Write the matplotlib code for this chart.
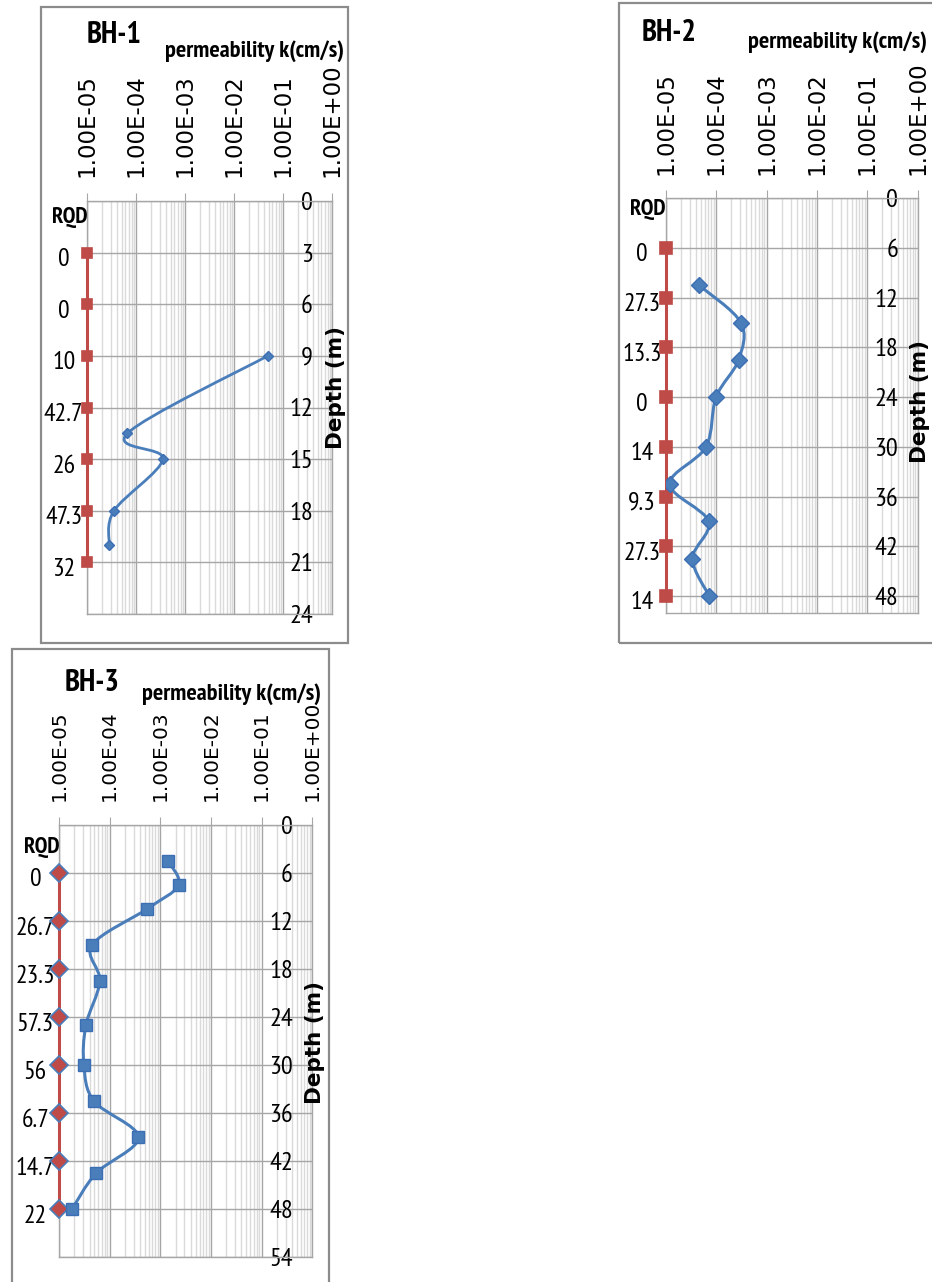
import numpy as np
import matplotlib
matplotlib.use("Agg")
import matplotlib.pyplot as plt
from matplotlib.path import Path
from matplotlib.patches import PathPatch, Rectangle
from matplotlib.ticker import LogLocator, NullFormatter, FixedLocator

W, H = 932, 1282
NARROW = ['PT Sans Narrow', 'Carlito', 'DejaVu Sans']

# permeability ticks (top axis)
k_ticks = [1e-5, 1e-4, 1e-3, 1e-2, 1e-1, 1e0]
k_tick_labels = ['1.00E-05', '1.00E-04', '1.00E-03', '1.00E-02', '1.00E-01', '1.00E+00']

# BH-1
bh1_depth = [9, 13.5, 15, 18, 20]
bh1_k = [4.8e-2, 6.6e-5, 3.5e-4, 3.5e-5, 2.8e-5]
bh1_rqd_depth = [3, 6, 9, 12, 15, 18, 21]
bh1_rqd = ['0', '0', '10', '42.7', '26', '47.3', '32']
bh1_depth_ticks = [0, 3, 6, 9, 12, 15, 18, 21, 24]

# BH-2
bh2_depth = [10.5, 15, 19.5, 24, 30, 34.5, 39, 43.5, 48]
bh2_k = [4.6e-5, 3.1e-4, 2.8e-4, 1.0e-4, 6.3e-5, 1.2e-5, 7.1e-5, 3.4e-5, 7.3e-5]
bh2_rqd_depth = [6, 12, 18, 24, 30, 36, 42, 48]
bh2_rqd = ['0', '27.3', '13.3', '0', '14', '9.3', '27.3', '14']
bh2_depth_ticks = [0, 6, 12, 18, 24, 30, 36, 42, 48]

# BH-3
bh3_depth = [4.5, 7.5, 10.5, 15, 19.5, 25, 30, 34.5, 39, 43.5, 48]
bh3_k = [1.4e-3, 2.3e-3, 5.4e-4, 4.5e-5, 6.4e-5, 3.4e-5, 3.1e-5, 4.9e-5, 3.7e-4, 5.4e-5, 1.8e-5]
bh3_rqd_depth = [6, 12, 18, 24, 30, 36, 42, 48]
bh3_rqd = ['0', '26.7', '23.3', '57.3', '56', '6.7', '14.7', '22']
bh3_depth_ticks = [0, 6, 12, 18, 24, 30, 36, 42, 48, 54]

BLUE = '#4A7EBB'
RED = '#BE4B48'
GRID = '#A6A6A6'
MINOR = '#DADADA'


def fx(px):
    return px / W


def fy(py):
    return 1 - py / H


def smooth_path(k, depth):
    # Excel style smoothed line: cubic bezier, control points from neighbours (in log space)
    p = np.column_stack([np.log10(k), depth])
    n = len(p)
    verts = [p[0]]
    codes = [Path.MOVETO]
    for i in range(n - 1):
        p0 = p[i - 1] if i > 0 else p[i]
        p3 = p[i + 2] if i + 2 < n else p[i + 1]
        c1 = p[i] + (p[i + 1] - p0) / 6
        c2 = p[i + 1] - (p3 - p[i]) / 6
        verts += [c1, c2, p[i + 1]]
        codes += [Path.CURVE4] * 3
    verts = np.array(verts)
    verts[:, 0] = 10 ** verts[:, 0]
    return Path(verts, codes)


def draw_panel(box, ax_px, ymax, depth_ticks, k, depth, rqd_depth, rqd,
               title, title_xy, perm_xy, rqd_xy, depth_lbl_xy,
               k_marker, k_ms, r_marker, r_ms, r_edge, line_w=2.2, kfont=16.5):
    x0, y0, x1, y1 = box
    fig.add_artist(Rectangle((fx(x0), fy(y1)), fx(x1) - fx(x0), fy(y0) - fy(y1),
                             transform=fig.transFigure, fill=False, ec='#8C8C8C', lw=1.6))
    l, t, r, b = ax_px
    ax = fig.add_axes([fx(l), fy(b), fx(r) - fx(l), fy(t) - fy(b)])
    ax.set_xscale('log')
    ax.set_xlim(1e-5, 1e0)
    ax.set_ylim(ymax, 0)

    ax.xaxis.tick_top()
    ax.set_xticks(k_ticks)
    ax.set_xticklabels(k_tick_labels, rotation=90, fontsize=kfont, family='DejaVu Sans')
    ax.xaxis.set_minor_locator(LogLocator(base=10, subs=np.arange(2, 10), numticks=30))
    ax.xaxis.set_minor_formatter(NullFormatter())
    ax.tick_params(axis='x', which='major', direction='out', length=6, color=GRID, pad=11)
    ax.tick_params(axis='x', which='minor', length=0)

    ax.yaxis.set_major_locator(FixedLocator(depth_ticks))
    ax.yaxis.tick_right()
    ax.set_yticklabels([str(d) for d in depth_ticks], fontsize=19, family=NARROW)
    ax.tick_params(axis='y', length=0, pad=-14)
    for lbl in ax.get_yticklabels():
        lbl.set_horizontalalignment('right')

    ax.grid(True, which='major', color=GRID, lw=1.0)
    ax.grid(True, which='minor', axis='x', color=MINOR, lw=1.0)
    for s in ax.spines.values():
        s.set_color(GRID)
        s.set_linewidth(1.0)
    ax.set_axisbelow(True)

    # RQD column at the left edge
    ax.plot([1e-5] * len(rqd_depth), rqd_depth, color=RED, lw=2.2,
            marker=r_marker, ms=r_ms, mfc=RED, mec=r_edge, mew=1.2, clip_on=False, zorder=4)
    for d, lab in zip(rqd_depth, rqd):
        ax.annotate(lab, (1e-5, d), xytext=(-17, -5), textcoords='offset points',
                    ha='center', va='center', fontsize=18.5, family=NARROW)

    # permeability profile
    ax.add_patch(PathPatch(smooth_path(k, depth), fill=False, ec=BLUE, lw=line_w, zorder=3))
    ax.plot(k, depth, ls='none', marker=k_marker, ms=k_ms, color=BLUE,
            mec='#3C6EB4', zorder=5)

    fig.text(fx(title_xy[0]), fy(title_xy[1]), title, ha='center', va='center',
             fontsize=22, fontweight='bold', family=NARROW)
    fig.text(fx(perm_xy[0]), fy(perm_xy[1]), 'permeability k(cm/s)', ha='center',
             va='center', fontsize=17.5, fontweight='bold', family=NARROW)
    fig.text(fx(rqd_xy[0]), fy(rqd_xy[1]), 'RQD', ha='center', va='center',
             fontsize=16.5, fontweight='bold', family=NARROW)
    fig.text(fx(depth_lbl_xy[0]), fy(depth_lbl_xy[1]), 'Depth (m)', ha='center',
             va='center', rotation=90, fontsize=15.5, fontweight='bold', family='DejaVu Sans')
    return ax


fig = plt.figure(figsize=(W / 100, H / 100), dpi=100)
fig.patch.set_facecolor('white')

draw_panel((41, 7, 348, 643), (87.3, 201, 332.3, 614), 24, bh1_depth_ticks,
           bh1_k, bh1_depth, bh1_rqd_depth, bh1_rqd,
           'BH-1', (114, 35), (255, 51), (70, 217), (336, 388),
           'D', 5, 's', 6.5, RED, line_w=2.0)

draw_panel((619, 3, 945, 643), (665.7, 198.3, 917.7, 613.3), 50.1, bh2_depth_ticks,
           bh2_k, bh2_depth, bh2_rqd_depth, bh2_rqd,
           'BH-2', (669, 33), (837, 42), (648, 210), (920, 402),
           'D', 8, 's', 8, RED)

draw_panel((12, 649, 329, 1300), (59, 825, 312.3, 1257.3), 54, bh3_depth_ticks,
           bh3_k, bh3_depth, bh3_rqd_depth, bh3_rqd,
           'BH-3', (92, 683), (232, 694), (42, 847), (315, 1042),
           's', 8, 'D', 9, BLUE, kfont=14.5)

fig.savefig('out.png', dpi=100, facecolor='white')
